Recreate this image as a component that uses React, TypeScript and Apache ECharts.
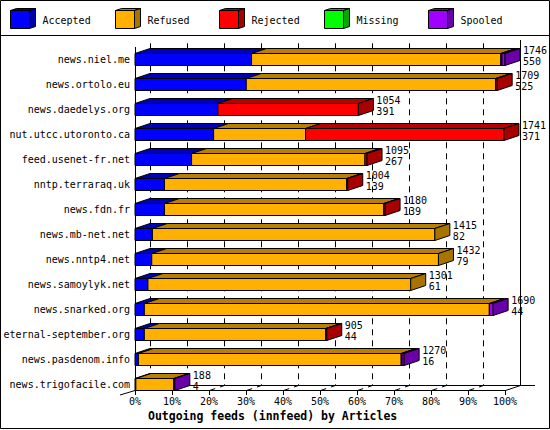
import React, { useEffect, useRef } from "react";
import * as echarts from "echarts";

const MONO = "'DejaVu Sans Mono', 'Liberation Mono', monospace";

const hosts = [
  "news.niel.me",
  "news.ortolo.eu",
  "news.daedelys.org",
  "nut.utcc.utoronto.ca",
  "feed.usenet-fr.net",
  "nntp.terraraq.uk",
  "news.fdn.fr",
  "news.mb-net.net",
  "news.nntp4.net",
  "news.samoylyk.net",
  "news.snarked.org",
  "eternal-september.org",
  "news.pasdenom.info",
  "news.trigofacile.com",
];
const totals = [1746, 1709, 1054, 1741, 1095, 1004, 1180, 1415, 1432, 1301, 1690, 905, 1270, 188];
const accepted = [550, 525, 391, 371, 267, 139, 139, 82, 79, 61, 44, 44, 16, 4];
const refused = [1176, 1177, 0, 434, 818, 860, 1035, 1333, 1353, 1240, 1628, 856, 1240, 179];
const rejected = [6, 7, 663, 936, 10, 5, 6, 0, 0, 0, 0, 5, 4, 0];
const missing = [0, 0, 0, 0, 0, 0, 0, 0, 0, 0, 0, 0, 0, 0];
const spooled = [14, 0, 0, 0, 0, 0, 0, 0, 0, 0, 18, 0, 10, 5];

const legendNames = ["Accepted", "Refused", "Rejected", "Missing", "Spooled"];
const segColors = ["#0000FF", "#FFB000", "#FF0000", "#00FF00", "#A000FF"];

function shade(hex: string, f: number) {
  const n = parseInt(hex.slice(1), 16);
  const r = Math.round(((n >> 16) & 255) * f);
  const g = Math.round(((n >> 8) & 255) * f);
  const b = Math.round((n & 255) * f);
  return "rgb(" + r + "," + g + "," + b + ")";
}

// layout constants (pixels)
const GRID_LEFT = 135;
const GRID_WIDTH = 370;
const GRID_TOP = 47;
const ROW_H = 25;
const FLOOR_Y = 390;
const DX = 15;
const DY = 5;
const BACK_TOP = 40;
const BAR_H = 12;

export default function App() {
  const ref = useRef<HTMLDivElement>(null);

  useEffect(() => {
    if (!ref.current) return;
    const chart = echarts.init(ref.current, undefined, { renderer: "svg" });
    const maxT = Math.max(...totals);
    const segArrays = [accepted, refused, rejected, missing, spooled];

    const renderItem = (params: any, api: any) => {
      const i = params.dataIndex;
      const base = api.coord([0, i]);
      const yc = Math.round(base[1]);
      const top = yc - BAR_H / 2 - 0.5;
      const bottom = yc + BAR_H / 2 - 0.5;
      const children: any[] = [];
      let cum = 0;
      let last = -1;
      let xEnd = base[0];
      segArrays.forEach((arr, k) => {
        const v = arr[i];
        if (v <= 0) return;
        const xa = api.coord([(cum / maxT) * 100, i])[0];
        cum += v;
        const xb = api.coord([(cum / maxT) * 100, i])[0];
        children.push({
          type: "polygon",
          shape: { points: [[xa, top], [xb, top], [xb + DX, top - DY], [xa + DX, top - DY]] },
          style: { fill: shade(segColors[k], 0.72), stroke: "#000", lineWidth: 1 },
        });
        children.push({
          type: "rect",
          shape: { x: xa, y: top, width: xb - xa, height: bottom - top },
          style: { fill: segColors[k], stroke: "#000", lineWidth: 1 },
        });
        last = k;
        xEnd = xb;
      });
      if (last >= 0) {
        children.push({
          type: "polygon",
          shape: { points: [[xEnd, top], [xEnd + DX, top - DY], [xEnd + DX, bottom - DY], [xEnd, bottom]] },
          style: { fill: shade(segColors[last], 0.66), stroke: "#000", lineWidth: 1 },
        });
      }
      children.push({
        type: "text",
        x: xEnd + DX + 3,
        y: yc - 4,
        style: {
          text: totals[i] + "\n" + accepted[i],
          fontFamily: MONO,
          fontSize: 10,
          lineHeight: 11,
          fill: "#000",
          align: "left",
          verticalAlign: "middle",
        },
      });
      return { type: "group", children };
    };

    // frame graphics
    const graphics: any[] = [];
    graphics.push({
      type: "rect",
      z: 0,
      shape: { x: 0.5, y: 0.5, width: 549, height: 428 },
      style: { fill: "none", stroke: "#000", lineWidth: 1 },
    });
    graphics.push({
      type: "line",
      z: 0,
      shape: { x1: 0, y1: 35.5, x2: 550, y2: 35.5 },
      style: { stroke: "#000", lineWidth: 1 },
    });
    for (let k = 0; k <= 10; k++) {
      const xf = GRID_LEFT + (GRID_WIDTH * k) / 10 + 0.5;
      const xb = xf + DX;
      graphics.push({
        type: "polyline",
        z: 0,
        shape: { points: [[xf, FLOOR_Y + 0.5], [xb, FLOOR_Y - DY + 0.5], [xb, BACK_TOP]] },
        style: { fill: "none", stroke: "#000", lineWidth: 1, lineDash: k === 10 ? null : [6, 5] },
      });
    }
    graphics.push({
      type: "line",
      z: 0,
      shape: { x1: GRID_LEFT + DX, y1: FLOOR_Y - DY + 0.5, x2: GRID_LEFT + GRID_WIDTH + 2 * DX, y2: FLOOR_Y - DY + 0.5 },
      style: { stroke: "#000", lineWidth: 1 },
    });
    graphics.push({
      type: "line",
      z: 0,
      shape: { x1: GRID_LEFT - DX, y1: FLOOR_Y + DY, x2: GRID_LEFT, y2: FLOOR_Y + 0.5 },
      style: { stroke: "#000", lineWidth: 1 },
    });
    graphics.push({
      type: "line",
      z: 0,
      shape: { x1: GRID_LEFT + 0.5, y1: GRID_TOP, x2: GRID_LEFT + 0.5, y2: FLOOR_Y },
      style: { stroke: "#000", lineWidth: 1 },
    });
    // legend
    legendNames.forEach((name, k) => {
      const x = 10 + Math.round(104.5 * k) + 0.5;
      const y = 10.5;
      const w = 19;
      const h = 18;
      const c = segColors[k];
      graphics.push({
        type: "polygon",
        z: 0,
        shape: { points: [[x, y], [x + w, y], [x + w + 6, y - 2], [x + 6, y - 2]] },
        style: { fill: shade(c, 0.72), stroke: "#000", lineWidth: 1 },
      });
      graphics.push({
        type: "polygon",
        z: 0,
        shape: { points: [[x + w, y], [x + w + 6, y - 2], [x + w + 6, y + h - 2], [x + w, y + h]] },
        style: { fill: shade(c, 0.66), stroke: "#000", lineWidth: 1 },
      });
      graphics.push({
        type: "rect",
        z: 0,
        shape: { x, y, width: w, height: h },
        style: { fill: c, stroke: "#000", lineWidth: 1 },
      });
      graphics.push({
        type: "text",
        z: 0,
        x: x + 32,
        y: 20,
        style: { text: name, fontFamily: MONO, fontSize: 10, fill: "#000", verticalAlign: "middle" },
      });
    });

    const option: any = {
      animation: false,
      backgroundColor: "#fff",
      textStyle: { fontFamily: MONO },
      title: {
        text: "Outgoing feeds (innfeed) by Articles",
        left: 148,
        top: 410,
        padding: 0,
        textStyle: { fontFamily: MONO, fontSize: 11.5, fontWeight: "bold", color: "#000" },
      },
      grid: { left: GRID_LEFT, width: GRID_WIDTH, top: GRID_TOP, height: ROW_H * hosts.length },
      xAxis: {
        type: "value",
        min: 0,
        max: 100,
        interval: 10,
        offset: -(GRID_TOP + ROW_H * hosts.length - FLOOR_Y),
        axisLine: { show: true, lineStyle: { color: "#000", width: 1 } },
        axisTick: { show: true, length: 5, lineStyle: { color: "#000" } },
        axisLabel: { formatter: "{value}%", fontFamily: MONO, fontSize: 10, color: "#000", margin: 6 },
        splitLine: { show: false },
      },
      yAxis: {
        type: "category",
        inverse: true,
        data: hosts,
        axisLine: { show: false },
        axisTick: { show: false },
        axisLabel: { interval: 0, fontFamily: MONO, fontSize: 10, color: "#000", margin: 5 },
        splitLine: { show: false },
      },
      series: [
        {
          type: "custom",
          renderItem,
          clip: false,
          encode: { x: 0, y: 1 },
          data: hosts.map((_, i) => [(totals[i] / maxT) * 100, i]),
        },
      ],
      graphic: graphics,
    };
    chart.setOption(option);
    return () => chart.dispose();
  }, []);

  return (
    <div
      ref={ref}
      style={{ position: "fixed", left: 0, top: 0, width: 550, height: 430, background: "#fff" }}
    />
  );
}
